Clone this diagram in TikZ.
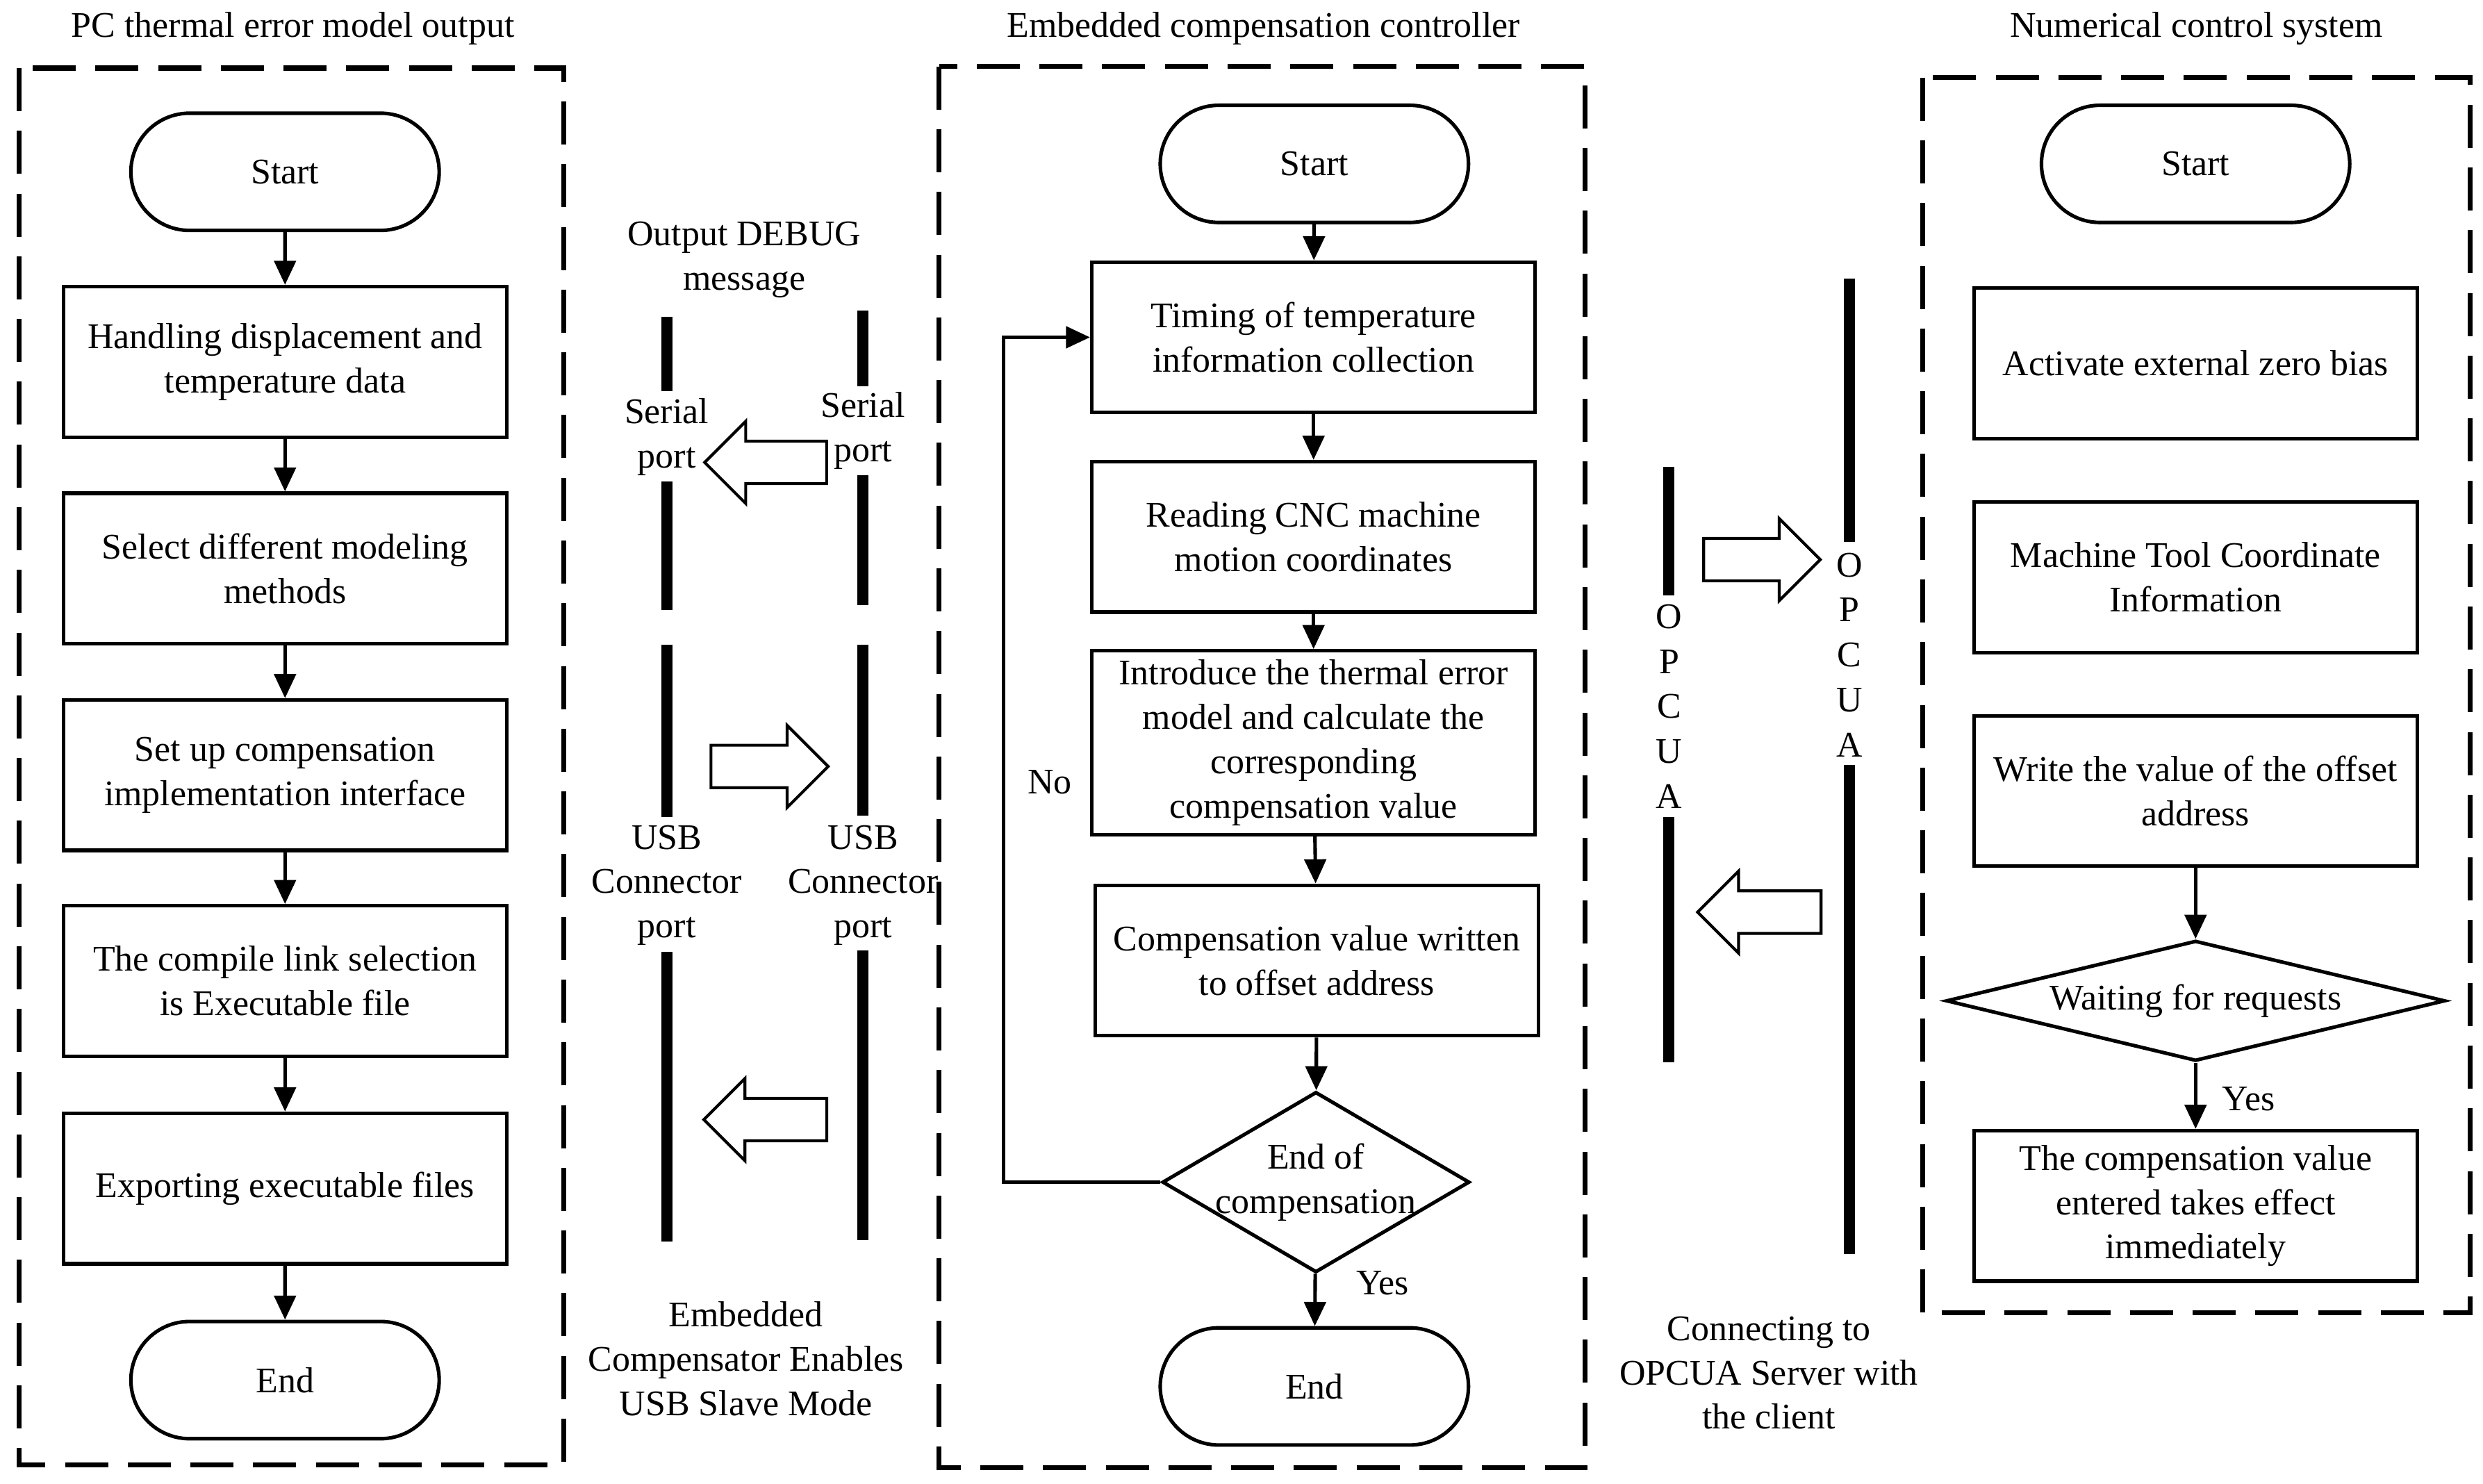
\documentclass[tikz,border=0pt]{standalone}
\usepackage{fontspec}
\setmainfont{Liberation Serif}
\usetikzlibrary{arrows.meta,positioning,calc,shapes.geometric,shapes.misc,shapes.arrows}
\tikzset{
  flowarr/.style={-{Triangle[length=3.8mm,width=3.4mm]}, line width=1.6pt},
  procbox/.style={draw, line width=1.6pt, align=center, minimum width=7cm, minimum height=2.375cm, inner sep=2pt},
  termnode/.style={draw, line width=1.6pt, rounded rectangle, minimum width=5.1cm, minimum height=1.85cm},
  decnode/.style={draw, line width=1.6pt, diamond, inner sep=0pt},
  panel/.style={line width=2.2pt, dash pattern=on 0.68cm off 0.31cm},
  portbar/.style={line width=5pt},
  blockarr/.style={draw, line width=1.3pt, single arrow, single arrow head extend=0.3125cm,
    single arrow tip angle=90, inner xsep=0pt, inner ysep=0.3125cm, outer sep=0pt, anchor=tip},
}

\begin{document}
\begin{tikzpicture}[
  x=0.025cm, y=-0.025cm,
  font=\fontsize{16.2}{19.9}\selectfont,
  opcstack/.style={align=center, font=\fontsize{16.2}{20.2}\selectfont, inner sep=1pt},
]
  \useasboundingbox (0,0) rectangle (1568,937);

  % Panels and titles
  \draw[panel] (12,43) rectangle (356,925);
  \draw[panel] (593,42) rectangle (1001,927);
  \draw[panel] (1214,49) rectangle (1560,829);
  \node (tPC) at (185,18) {PC thermal error model output};
  \node (tEmb) at (798,18) {Embedded compensation controller};
  \node (tNC) at (1387,18) {Numerical control system};

  % PC column
  \node[termnode] (pcStart) at (180,108.5) {Start};
  \node[procbox] (pc1) at (180,228.5) {Handling displacement and\\temperature data};
  \node[procbox] (pc2) at (180,359) {Select different modeling\\methods};
  \node[procbox] (pc3) at (180,489.5) {Set up compensation\\implementation interface};
  \node[procbox] (pc4) at (180,619.5) {The compile link selection\\is Executable file};
  \node[procbox] (pc5) at (180,750.5) {Exporting executable files};
  \node[termnode] (pcEnd) at (180,871.5) {End};
  \foreach \a/\b in {pcStart/pc1, pc1/pc2, pc2/pc3, pc3/pc4, pc4/pc5, pc5/pcEnd}
    \draw[flowarr] (\a) -- (\b);

  % Embedded controller column
  \node[termnode] (emStart) at (830,103.5) {Start};
  \node[procbox] (em1) at (829.5,213) {Timing of temperature\\information collection};
  \node[procbox] (em2) at (829.5,339) {Reading CNC machine\\motion coordinates};
  \node[procbox, minimum height=2.9cm] (em3) at (829.5,469) {Introduce the thermal error\\model and calculate the\\corresponding\\compensation value};
  \node[procbox] (em4) at (831.5,606.5) {Compensation value written\\to offset address};
  \node[decnode, minimum width=4.85cm, minimum height=2.85cm,
    label={[align=center]center:End of\\compensation}] (emDec) at (831,746.5) {};
  \node[termnode] (emEnd) at (830,875.5) {End};
  \foreach \a/\b in {emStart/em1, em1/em2, em2/em3, em3/em4, em4/emDec, emDec/emEnd}
    \draw[flowarr] (\a) -- (\b);
  \draw[flowarr] (emDec.west) -- ++(-99,0) |- (em1.west);
  \node (lblNo) at (663,494) {No};
  \node (lblYesM) at (873,810) {Yes};

  % NC system column
  \node[termnode] (ncStart) at (1386.5,103.5) {Start};
  \node[procbox] (nc1) at (1386.5,229.5) {Activate external zero bias};
  \node[procbox] (nc2) at (1386.5,364.5) {Machine Tool Coordinate\\Information};
  \node[procbox] (nc3) at (1386.5,499.5) {Write the value of the offset\\address};
  \node[decnode, minimum width=7.875cm, minimum height=1.9cm,
    label=center:Waiting for requests] (ncDec) at (1386.5,632) {};
  \node[procbox] (nc4) at (1386.5,761.5) {The compensation value\\entered takes effect\\immediately};
  \draw[flowarr] (nc3) -- (ncDec);
  \draw[flowarr] (ncDec) -- (nc4);
  \node (lblYesR) at (1420,694) {Yes};

  % Serial / USB link
  \foreach \p/\q in {200/247, 304/385, 407/516, 601/784}
    \draw[portbar] (421,\p) -- (421,\q);
  \foreach \p/\q in {196/244, 300/382, 407/515, 600/783}
    \draw[portbar] (545,\p) -- (545,\q);
  \node[align=center] (txtDebug) at (470,164) {Output DEBUG\\message};
  \node[align=center] (txtSerL) at (421,276) {Serial\\port};
  \node[align=center] (txtSerR) at (545,272) {Serial\\port};
  \node[align=center] (txtUsbL) at (421,559) {USB\\Connector\\port};
  \node[align=center] (txtUsbR) at (545,559) {USB\\Connector\\port};
  \node[align=center] (txtSlave) at (471,858) {Embedded\\Compensator Enables\\USB Slave Mode};
  \node[blockarr, minimum height=1.925cm, shape border rotate=180] (arrSer) at (445,292) {};
  \node[blockarr, minimum height=1.85cm] (arrUsbIn) at (523,484) {};
  \node[blockarr, minimum height=1.94cm, shape border rotate=180] (arrUsbOut) at (444.5,707) {};

  % OPCUA link
  \foreach \p/\q in {295/376, 516/671}
    \draw[portbar] (1054,\p) -- (1054,\q);
  \foreach \p/\q in {176/342, 483/792}
    \draw[portbar] (1168,\p) -- (1168,\q);
  \node[opcstack] (opcL) at (1054,446) {O\\P\\C\\U\\A};
  \node[opcstack] (opcR) at (1168,413.5) {O\\P\\C\\U\\A};
  \node[blockarr, minimum height=1.84cm] (arrOpcIn) at (1149.5,353.4) {};
  \node[blockarr, minimum height=1.95cm, shape border rotate=180] (arrOpcOut) at (1072,576) {};
  \node[align=center] (txtOpc) at (1117,867) {Connecting to\\OPCUA Server with\\the client};
\end{tikzpicture}
\end{document}
